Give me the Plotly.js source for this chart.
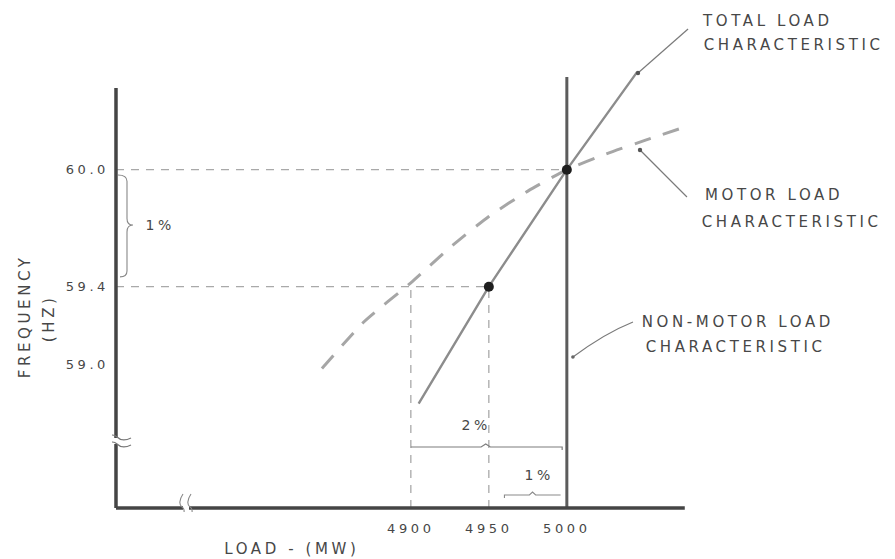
<!DOCTYPE html>
<html>
<head>
<meta charset="utf-8">
<script src="https://cdn.plot.ly/plotly-3.0.1.min.js"></script>
<style>
  html, body { margin: 0; padding: 0; background: #fff; }
  .main-svg text { letter-spacing: 3.6px; }
</style>
</head>
<body>
<div id="chart" style="width:895px;height:559px;"></div>
<script>
// ---- data ----
const motorLoad = [4843, 4870, 4900, 4925, 4950, 4975, 5000, 5025, 5050, 5076];
const motorFreq = [58.98, 59.22, 59.42, 59.60, 59.76, 59.89, 60.00, 60.08, 60.15, 60.22];

const totalLoad = [4905, 4950, 5000, 5045];
const totalFreq = [58.80, 59.40, 60.00, 60.50];

const nonMotorLoad = [5000, 5000];
const nonMotorFreq = [58.265, 60.475];

const pointLoad = [4950, 5000];
const pointFreq = [59.4, 60.0];

const reducedLoad = 4900;       // load where the motor curve crosses 59.4 Hz
const reducedFreq = 59.4;

const xTickVals = [4900, 4950, 5000];
const xTickText = ['4900', '4950', '5000'];
const yTickVals = [59.0, 59.4, 60.0];
const yTickText = ['59.0', '59.4', '60.0'];

// axis extents of the drawn frame
const xMin = 4711, xMax = 5075.6;
const yMin = 58.265, yMax = 60.419;

// ---- styles ----
const txt = '#474747';
const fam = 'DejaVu Sans, Liberation Sans, Arial, sans-serif';
const font = { family: fam, size: 15, color: txt };
const refDash = { color: '#a9a9a9', width: 1.3, dash: '8px,7px' };

const traces = [];
// reference dashed lines from the operating points
for (let i = 0; i < pointLoad.length; i++) {
  traces.push({ x: [xMin, pointLoad[i]], y: [pointFreq[i], pointFreq[i]], mode: 'lines',
                line: refDash, hoverinfo: 'skip', showlegend: false });
  traces.push({ x: [pointLoad[i], pointLoad[i]], y: [yMin, pointFreq[i]], mode: 'lines',
                line: refDash, hoverinfo: 'skip', showlegend: false });
}
traces.push({ x: [reducedLoad, reducedLoad], y: [yMin, reducedFreq], mode: 'lines',
              line: refDash, hoverinfo: 'skip', showlegend: false });

// motor load characteristic (dashed curve)
traces.push({ x: motorLoad, y: motorFreq, mode: 'lines', name: 'Motor load',
              line: { color: '#a6a6a6', width: 3, dash: '17px,13px', shape: 'spline', smoothing: 0.6 },
              showlegend: false });
// non-motor load characteristic (vertical)
traces.push({ x: nonMotorLoad, y: nonMotorFreq, mode: 'lines', name: 'Non-motor load',
              line: { color: '#5c5c5c', width: 3 }, showlegend: false });
// total load characteristic
traces.push({ x: totalLoad, y: totalFreq, mode: 'lines', name: 'Total load',
              line: { color: '#8c8c8c', width: 2.4 }, showlegend: false });
// operating points
traces.push({ x: pointLoad, y: pointFreq, mode: 'markers', name: 'Points',
              marker: { color: '#1e1e1e', size: 10 }, showlegend: false });

const lead = { color: '#7a7a7a', width: 1.2 };
const shapes = [
  // axes frame
  { type: 'line', x0: xMin, x1: xMin, y0: yMin, y1: yMax, line: { color: '#454545', width: 3.5 } },
  { type: 'line', x0: xMin, x1: xMax, y0: yMin, y1: yMin, line: { color: '#454545', width: 3.5 } },
  // y-axis break
  { type: 'rect', xref: 'x', yref: 'y', xsizemode: 'pixel', ysizemode: 'pixel', xanchor: xMin, yanchor: yMin,
    x0: -4, x1: 4, y0: 64, y1: 70, fillcolor: '#fff', line: { width: 0 } },
  { type: 'path', xref: 'x', yref: 'y', xsizemode: 'pixel', ysizemode: 'pixel', xanchor: xMin, yanchor: yMin,
    path: 'M -12,69 C -6,74 -2,74 1,71 S 9,67 15,70', line: { color: '#777', width: 1.2 } },
  { type: 'path', xref: 'x', yref: 'y', xsizemode: 'pixel', ysizemode: 'pixel', xanchor: xMin, yanchor: yMin,
    path: 'M -12,62 C -6,67 -2,67 1,64 S 9,60 15,63', line: { color: '#777', width: 1.2 } },
  // x-axis break
  { type: 'rect', xref: 'x', yref: 'y', xsizemode: 'pixel', ysizemode: 'pixel', xanchor: xMin, yanchor: yMin,
    x0: 67, x1: 73, y0: -4, y1: 4, fillcolor: '#fff', line: { width: 0 } },
  { type: 'path', xref: 'x', yref: 'y', xsizemode: 'pixel', ysizemode: 'pixel', xanchor: xMin, yanchor: yMin,
    path: 'M 65,-11 C 69,-5 69,-1 66,1 S 63,8 67,14', line: { color: '#888', width: 1.1 } },
  { type: 'path', xref: 'x', yref: 'y', xsizemode: 'pixel', ysizemode: 'pixel', xanchor: xMin, yanchor: yMin,
    path: 'M 73,-11 C 77,-5 77,-1 74,1 S 71,8 75,14', line: { color: '#888', width: 1.1 } },
  // 1% brace on the frequency axis
  { type: 'path', xref: 'x', yref: 'y', xsizemode: 'pixel', xanchor: xMin,
    path: 'M 2,59.973 Q 11,59.973 11,59.94 L 11,59.75 Q 11,59.716 17,59.716 Q 11,59.716 11,59.68 L 11,59.48 Q 11,59.45 4,59.45',
    line: { color: '#888', width: 1.1 } },
  // 2% bracket on the load axis
  { type: 'path', xref: 'x', yref: 'y', ysizemode: 'pixel', yanchor: yMin,
    path: 'M 4900,61 L 4945,61 L 4948,64 L 4951,61 L 4997,61 L 4997,58', line: { color: '#7d7d7d', width: 1.2 } },
  // 1% bracket
  { type: 'path', xref: 'x', yref: 'y', ysizemode: 'pixel', yanchor: yMin,
    path: 'M 4960,10 L 4960,13 L 4976,13 L 4978,16 L 4980,13 L 4996,13', line: { color: '#8a8a8a', width: 1.1 } },
  // leader lines to labels
  { type: 'line', x0: 5045.6, y0: 60.496, x1: 5077.7, y1: 60.721, line: lead },
  { type: 'line', x0: 5046.9, y0: 60.101, x1: 5077.0, y1: 59.860, line: lead },
  { type: 'path', path: 'M 5003.9,59.039 Q 5024,59.16 5042.4,59.219', line: lead },
  // leader end dots
  { type: 'circle', xsizemode: 'pixel', ysizemode: 'pixel', xanchor: 5045.6, yanchor: 60.496,
    x0: -2.2, x1: 2.2, y0: -2.2, y1: 2.2, fillcolor: '#555', line: { width: 0 } },
  { type: 'circle', xsizemode: 'pixel', ysizemode: 'pixel', xanchor: 5046.9, yanchor: 60.101,
    x0: -2.2, x1: 2.2, y0: -2.2, y1: 2.2, fillcolor: '#555', line: { width: 0 } },
  { type: 'circle', xsizemode: 'pixel', ysizemode: 'pixel', xanchor: 5003.9, yanchor: 59.039,
    x0: -1.8, x1: 1.8, y0: -1.8, y1: 1.8, fillcolor: '#666', line: { width: 0 } }
];

function lab(x, y, text, extra) {
  return Object.assign({ x: x, y: y, xref: 'x', yref: 'y', text: text, showarrow: false,
                         xanchor: 'center', yanchor: 'middle', font: font }, extra || {});
}
const small = Object.assign({}, font, { size: 14 });
const annotations = [
  lab(5128.6, 60.762, 'TOTAL LOAD'),
  lab(5145.3, 60.639, 'CHARACTERISTIC'),
  lab(5132.8, 59.870, 'MOTOR LOAD'),
  lab(5144.3, 59.732, 'CHARACTERISTIC'),
  lab(5110.0, 59.219, 'NON-MOTOR LOAD'),
  lab(5108.4, 59.091, 'CHARACTERISTIC'),
  lab(4739.2, 59.716, '1%', { font: small }),
  lab(4941.8, 58.691, '2%', { font: small }),
  lab(4982.2, 58.434, '1%', { font: small }),
  { xref: 'paper', yref: 'paper', x: 0.2314, y: -0.0737, text: 'LOAD - (MW)', showarrow: false,
    xanchor: 'center', yanchor: 'middle', font: font },
  { xref: 'paper', yref: 'paper', x: -0.1118, y: 0.3904, text: 'FREQUENCY', showarrow: false,
    textangle: -90, xanchor: 'center', yanchor: 'middle', font: font },
  { xref: 'paper', yref: 'paper', x: -0.081, y: 0.3865, text: '(HZ)', showarrow: false,
    textangle: -90, xanchor: 'center', yanchor: 'middle', font: font }
];

const layout = {
  width: 895, height: 559,
  margin: { l: 112, r: 5, t: 10, b: 47 },
  paper_bgcolor: '#ffffff', plot_bgcolor: '#ffffff',
  showlegend: false,
  xaxis: { range: [4708.44, 5207.15], showgrid: false, zeroline: false, showline: false,
           tickmode: 'array', tickvals: xTickVals, ticktext: xTickText, ticks: '',
           ticklabelstandoff: 7, tickfont: { family: fam, size: 13, color: txt },
           fixedrange: true },
  yaxis: { range: [58.2445, 60.8188], showgrid: false, zeroline: false, showline: false,
           tickmode: 'array', tickvals: yTickVals, ticktext: yTickText, ticks: '',
           ticklabelstandoff: 2, tickfont: { family: fam, size: 13, color: txt },
           fixedrange: true },
  shapes: shapes,
  annotations: annotations
};

Plotly.newPlot('chart', traces, layout, { displayModeBar: false, staticPlot: true });
</script>
</body>
</html>
